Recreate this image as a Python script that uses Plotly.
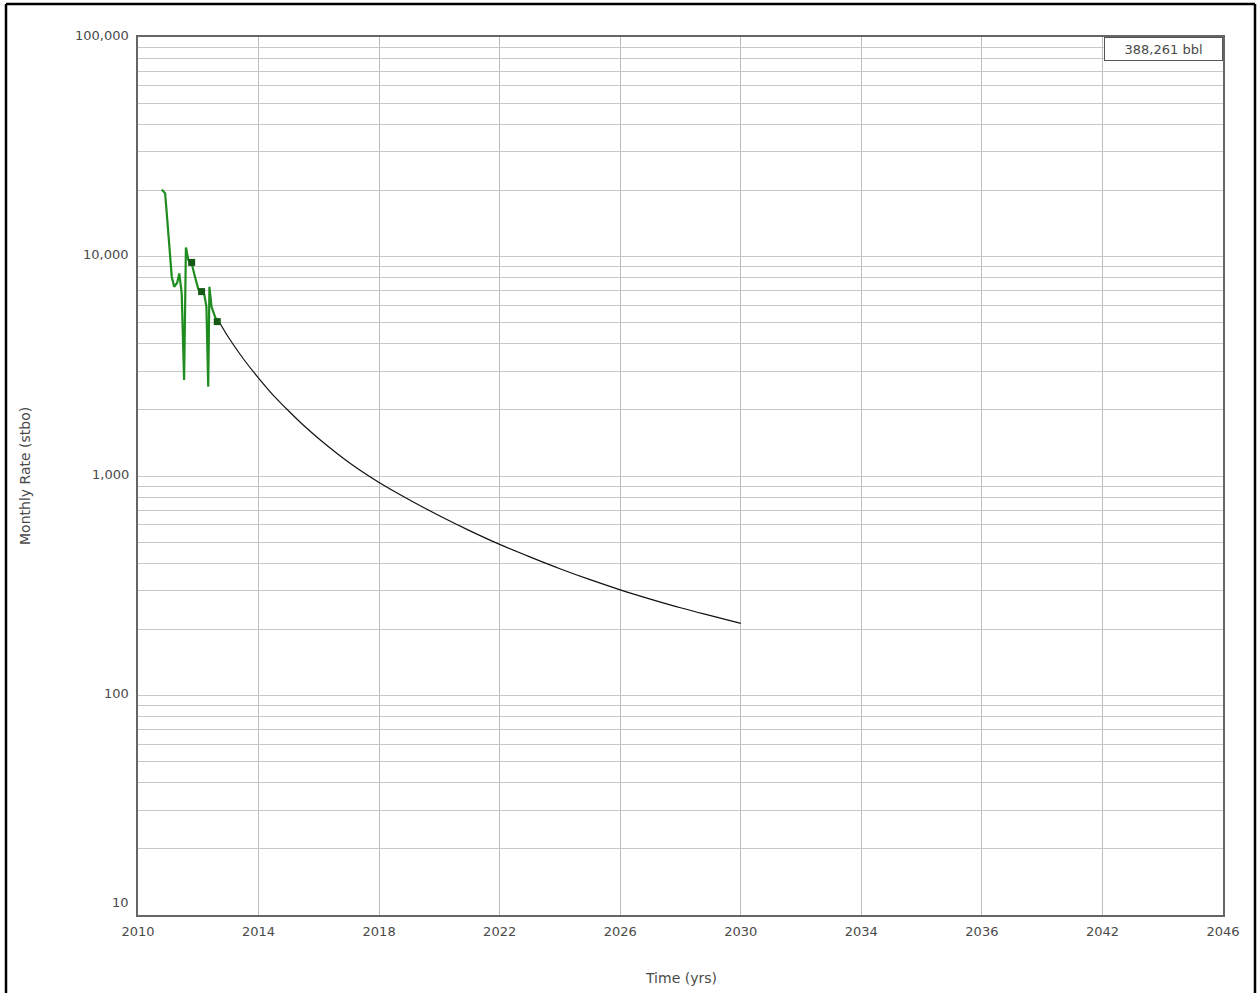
import plotly.graph_objects as go
import math

# Historical (green) production
hist_years = [2010.79, 2010.90, 2010.95, 2011.05, 2011.12, 2011.20, 2011.30, 2011.37,
              2011.45, 2011.53, 2011.56, 2011.59, 2011.67, 2011.78, 2011.89, 2012.00,
              2012.11, 2012.20, 2012.27, 2012.33, 2012.37, 2012.44, 2012.56, 2012.63, 2012.72]
hist_rates = [20200, 19400, 16000, 11000, 8090, 7280, 7600, 8370,
              6790, 2740, 6000, 11000, 9640, 9310, 8090, 7100,
              6920, 6700, 5900, 2550, 7280, 5900, 5300, 5050, 4970]

# Clustered points shown as squares
cluster_years = [2011.78, 2012.11, 2012.63]
cluster_rates = [9400, 6920, 5050]

# Forecast (black) decline curve
fc_years = [2012.72, 2013.0, 2013.5, 2014.0, 2014.5, 2015.0, 2015.5, 2016.0, 2017.0, 2018.0,
            2019.0, 2020.0, 2021.0, 2022.0, 2023.0, 2024.0, 2025.0, 2026.0,
            2027.0, 2028.0, 2029.0, 2030.0]
fc_rates = [4966, 4285, 3412, 2793, 2323, 1977, 1698, 1479, 1153, 935,
            780, 659, 564, 488, 428, 378, 337, 303,
            275, 251, 231, 213]

x_ticks = [2010, 2014, 2018, 2022, 2026, 2030, 2034, 2038, 2042, 2046]
x_ticklabels = ["2010", "2014", "2018", "2022", "2026", "2030", "2034", "2036", "2042", "2046"]
y_label_vals = [10, 100, 1000, 10000, 100000]
y_label_text = ["10", "100", "1,000", "10,000", "100,000"]
cum_label = "388,261 bbl"

font_family = "DejaVu Sans, Verdana, sans-serif"
txt_color = "#4a4a4a"

W, H = 1257, 993
ML, MR, MT, MB = 138, 34, 37, 78
PW, PH = W - ML - MR, H - MT - MB

def px_to_paper_x(px):
    return (px - ML) / PW

def px_to_paper_y(py):
    return (H - MB - py) / PH

y_grid = [m * 10 ** d for d in range(1, 5) for m in range(1, 10)] + [100000]

fig = go.Figure()
fig.add_trace(go.Scatter(x=fc_years, y=fc_rates, mode="lines",
                         line=dict(color="#111111", width=1.2, shape="spline", smoothing=0.8),
                         showlegend=False))
fig.add_trace(go.Scatter(x=hist_years, y=hist_rates, mode="lines",
                         line=dict(color="#1e8c1e", width=2.2), showlegend=False))
fig.add_trace(go.Scatter(x=cluster_years, y=cluster_rates, mode="markers",
                         marker=dict(symbol="square", size=7, color="#145a14"),
                         showlegend=False))

fig.update_layout(
    width=W, height=H,
    margin=dict(l=ML, r=MR, t=MT, b=MB),
    paper_bgcolor="white", plot_bgcolor="white",
    font=dict(family=font_family, size=13, color=txt_color),
    xaxis=dict(range=[2010, 2046], tickvals=x_ticks, ticktext=x_ticklabels,
               showgrid=True, gridcolor="#bdbdbd", gridwidth=1.3,
               showline=True, linecolor="#666666", linewidth=1.5, mirror=True,
               ticks="", zeroline=False, ticklabelstandoff=4,
               tickfont=dict(size=13, color=txt_color)),
    yaxis=dict(type="log", range=[1, 5], tickvals=y_grid,
               showticklabels=False, showgrid=True, gridcolor="#c8c8c8", gridwidth=1.3,
               showline=True, linecolor="#666666", linewidth=1.5, mirror=True,
               ticks="", zeroline=False),
)

for v, t in zip(y_label_vals, y_label_text):
    fig.add_annotation(x=0, xref="paper", y=math.log10(v), yref="y", text=t,
                       showarrow=False, xanchor="right", yanchor="middle",
                       xshift=-7, yshift=(13 if v == 10 else 2),
                       font=dict(size=13, color=txt_color))

fig.add_annotation(x=0.5, xref="paper", y=px_to_paper_y(978), yref="paper", text="Time (yrs)",
                   showarrow=False, xanchor="center", yanchor="middle",
                   font=dict(size=14, color=txt_color))
fig.add_annotation(x=px_to_paper_x(25), xref="paper", y=0.5, yref="paper",
                   text="Monthly Rate (stbo)", textangle=-90,
                   showarrow=False, xanchor="center", yanchor="middle",
                   font=dict(size=14, color=txt_color))

fig.add_annotation(x=1, xref="paper", y=1, yref="paper", text=cum_label,
                   showarrow=False, xanchor="right", yanchor="top",
                   bordercolor="#555555", borderwidth=1, borderpad=3,
                   bgcolor="white", width=111, height=16, align="center",
                   font=dict(size=13, color=txt_color))

# outer frame
fx0, fx1 = px_to_paper_x(6), px_to_paper_x(1255)
fy0, fy1 = px_to_paper_y(H + 5), px_to_paper_y(4)
frame = dict(color="black", width=2.5)
fig.add_shape(type="line", xref="paper", yref="paper", x0=fx0, x1=fx0, y0=fy0, y1=fy1, line=frame)
fig.add_shape(type="line", xref="paper", yref="paper", x0=fx0, x1=fx1, y0=fy1, y1=fy1, line=frame)
fig.add_shape(type="line", xref="paper", yref="paper", x0=fx1, x1=fx1, y0=fy0, y1=fy1, line=frame)

fig.write_html("out.html", config={"displayModeBar": False},
               post_script="document.body.style.margin='0';")
